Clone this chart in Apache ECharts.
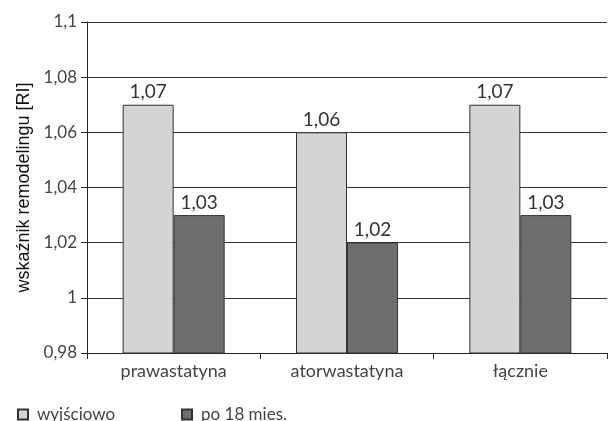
<!DOCTYPE html>
<html>
<head>
<meta charset="utf-8">
<script src="https://cdn.jsdelivr.net/npm/echarts@6/dist/echarts.min.js"></script>
<style>
  html, body { margin: 0; padding: 0; background: #fff; }
  #chart { width: 608px; height: 421px; }
</style>
</head>
<body>
<div id="chart"></div>
<script>
// Remodeling index by statin group, baseline vs. after 18 months
const categories = ['prawastatyna', 'atorwastatyna', 'łącznie'];
const baseline = [1.07, 1.06, 1.07];
const after18 = [1.03, 1.02, 1.03];
const seriesNames = ['wyjściowo', 'po 18 mies.'];
const yTicks = { min: 0.98, max: 1.1, step: 0.02 };

const fmt = v => String(Math.round(v * 100) / 100).replace('.', ',');
const textFont = 'Lato';

const chart = echarts.init(document.getElementById('chart'), null, { renderer: 'canvas' });

const barSeries = (name, data, color) => ({
  name,
  type: 'bar',
  data,
  barWidth: 51,
  barGap: '0%',
  itemStyle: { color, borderColor: '#333', borderWidth: 1 },
  label: {
    show: true,
    position: 'top',
    distance: 3,
    formatter: p => fmt(p.value),
    color: '#333',
    fontFamily: textFont,
    fontSize: 19
  },
  emphasis: { disabled: true }
});

const legendText = { color: '#444', fontFamily: textFont, fontSize: 17, padding: [0, 0, 0, 4] };

chart.setOption({
  animation: false,
  grid: { left: 87, right: 1, top: 22, bottom: 68, containLabel: false },
  legend: [
    {
      data: [seriesNames[0]], left: 12, top: 401,
      icon: 'rect', itemWidth: 10, itemHeight: 10, itemGap: 8,
      textStyle: legendText
    },
    {
      data: [seriesNames[1]], left: 176, top: 401,
      icon: 'rect', itemWidth: 10, itemHeight: 10, itemGap: 8,
      textStyle: legendText
    }
  ],
  xAxis: {
    type: 'category',
    data: categories,
    axisLine: { lineStyle: { color: '#222', width: 1 } },
    axisTick: { show: true, length: 6, alignWithLabel: false, lineStyle: { color: '#222' } },
    axisLabel: { color: '#444', fontFamily: textFont, fontSize: 18, margin: 9 },
    splitLine: { show: false }
  },
  yAxis: {
    type: 'value',
    min: yTicks.min,
    max: yTicks.max,
    interval: yTicks.step,
    name: 'wskaźnik remodelingu [RI]',
    nameLocation: 'middle',
    nameGap: 54,
    nameTextStyle: { color: '#111', fontFamily: 'Liberation Sans', fontSize: 18 },
    axisLine: { show: true, lineStyle: { color: '#222', width: 1 } },
    axisTick: { show: true, length: 6, lineStyle: { color: '#222' } },
    axisLabel: { color: '#444', fontFamily: textFont, fontSize: 17, margin: 10, formatter: v => fmt(v) },
    splitLine: { show: true, lineStyle: { color: '#333', width: 1 } }
  },
  series: [
    barSeries(seriesNames[0], baseline, '#d3d4d6'),
    barSeries(seriesNames[1], after18, '#6d6e70')
  ]
});
</script>
</body>
</html>
